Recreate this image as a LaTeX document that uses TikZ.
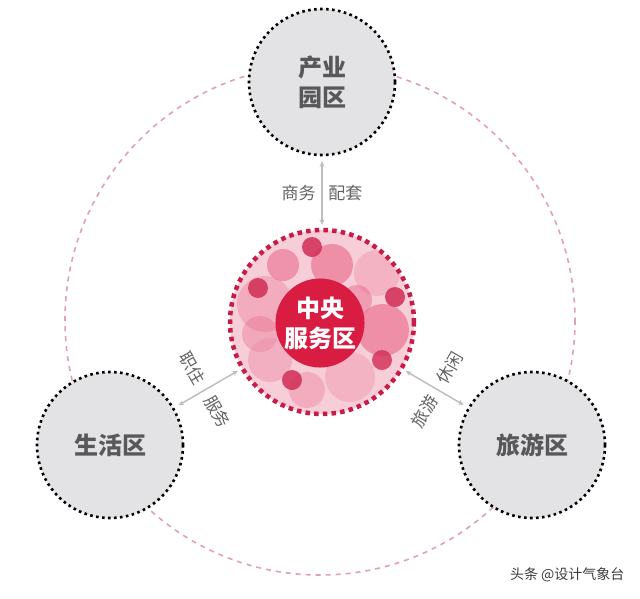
\documentclass[tikz,border=0pt]{standalone}
\usepackage{fontspec}
\setmainfont{Noto Sans CJK SC}
\usetikzlibrary{arrows.meta}
\definecolor{zonefill}{RGB}{227,227,229}
\definecolor{zonetxt}{RGB}{88,88,90}
\definecolor{ring}{RGB}{226,160,178}
\definecolor{hubfill}{RGB}{247,205,216}
\definecolor{hubrim}{RGB}{200,28,72}
\definecolor{coref}{RGB}{216,28,66}
\definecolor{pkmid}{RGB}{232,100,135}
\definecolor{pklight}{RGB}{238,140,165}
\definecolor{pkdark}{RGB}{210,44,85}
\definecolor{linkc}{RGB}{190,190,192}
\definecolor{lbltxt}{RGB}{100,100,102}
\definecolor{marktxt}{RGB}{60,60,60}
\tikzset{
  every picture/.style={>={Stealth[length=5.5pt,width=5pt]}},
  % Teilgebiete
  zone/.style={circle, fill=zonefill, draw=black, line width=2.6pt,
    dash pattern=on 2.6pt off 3.4pt, inner sep=0pt, minimum size=#1,
    text=zonetxt, align=center, font=\bfseries\fontsize{24}{30}\selectfont},
  zone/.default=146pt,
  % Zentrum
  hub/.style={circle, fill=hubfill, inner sep=0pt, minimum size=184pt},
  rim/.style={hubrim, line width=4.5pt, dash pattern=on 4.5pt off 4.2pt},
  core/.style={circle, fill=coref, inner sep=0pt, minimum size=84pt,
    text=white, align=center, font=\bfseries\fontsize{24}{30}\selectfont},
  % Verbindungen
  link/.style={linkc, line width=1.5pt, <->, shorten <=5pt, shorten >=5pt},
  lbl/.style={text=lbltxt, font=\fontsize{17}{20}\selectfont, inner sep=0pt},
  orbit/.style={ring, line width=1.6pt, dash pattern=on 5pt off 5pt},
}

\begin{document}
\begin{tikzpicture}[x=1pt, y=-1pt]
  \useasboundingbox (0,0) rectangle (640,598);
  % äußerer Ring
  \draw[orbit] (320,320) circle (255);
  % Teilgebiete
  \node[zone] (park) at (322,82) {产业\\园区};
  \node[zone] (live) at (110,445) {生活区};
  \node[zone] (tour) at (532,445) {旅游区};
  % Zentrum mit Blasen
  \node[hub] (hub) at (322,322) {};
  \begin{scope}
    \clip (hub.center) circle (90);
    \foreach \x/\y/\r/\c/\o in {
        265/304/28/pklight/0.5, 260/334/18/pkmid/0.35, 270/360/22/pklight/0.45,
        283/265/16/pkmid/0.55, 332/265/21/pkmid/0.6, 377/273/23/pklight/0.4,
        357/300/15/pkmid/0.45, 383/330/26/pkmid/0.6, 350/377/25/pklight/0.4,
        307/390/18/pklight/0.5,
        312/247/10/pkdark/0.85, 258/288/10/pkdark/0.85, 395/297/10/pkdark/0.85,
        382/360/10/pkdark/0.8, 292/380/10/pkdark/0.85}
      \fill[\c, fill opacity=\o] (\x,\y) circle (\r);
  \end{scope}
  \draw[rim] (hub.center) circle (92);
  \node[core] (core) at (320,323) {中央\\服务区};
  % Verbindungen
  \draw[link] (park) -- (hub);
  \draw[link] (live) -- (hub);
  \draw[link] (hub) -- (tour);
  \path (park) -- (hub) node[lbl, pos=0.5] {商务\hspace{13pt}配套};
  \path (live) -- (hub) node[lbl, pos=0.45, rotate=-60] {职住\hspace{16pt}服务};
  \path (hub) -- (tour) node[lbl, pos=0.54, rotate=60] {旅游\hspace{16pt}休闲};
  \node[text=marktxt, font=\fontsize{14}{16}\selectfont, anchor=east] (mark) at (628,575) {头条 @设计气象台};
\end{tikzpicture}
\end{document}
